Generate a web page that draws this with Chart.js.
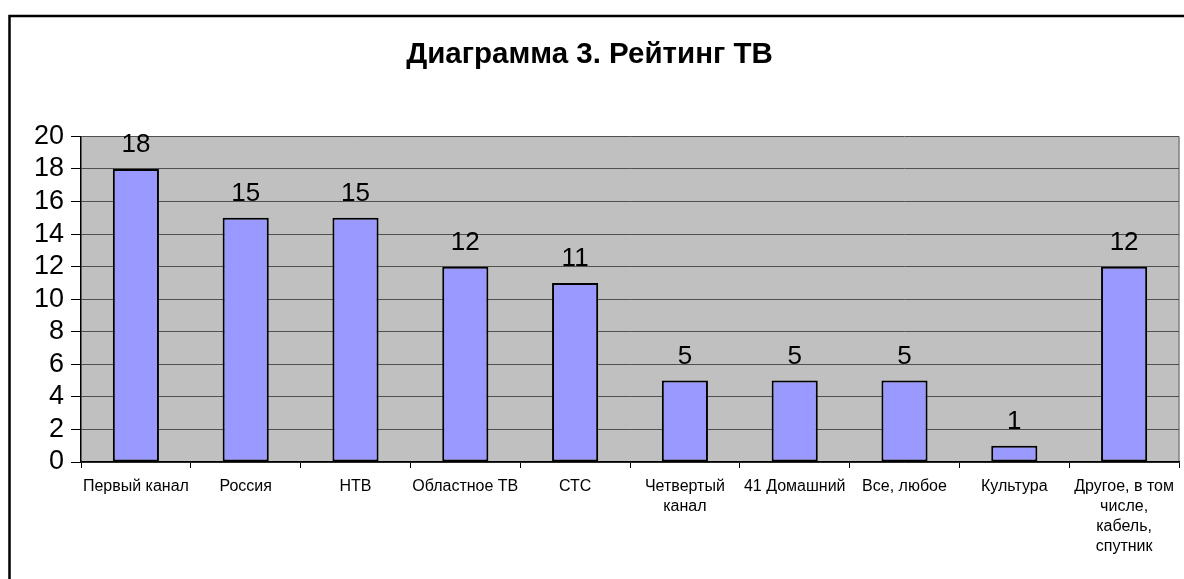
<!DOCTYPE html>
<html>
<head>
<meta charset="utf-8">
<script src="https://cdn.jsdelivr.net/npm/chart.js@4"></script>
<style>
  html, body { margin: 0; padding: 0; background: #fff; }
  #wrap { width: 1184px; height: 579px; }
</style>
</head>
<body>
<div id="wrap"><canvas id="myChart" width="1184" height="579"></canvas></div>
<script>
// data
var channels = [
  "Первый канал",
  "Россия",
  "НТВ",
  "Областное ТВ",
  "СТС",
  ["Четвертый", "канал"],
  "41 Домашний",
  "Все, любое",
  "Культура",
  ["Другое, в том", "числе,", "кабель,", "спутник"]
];
var rating = [18, 15, 15, 12, 11, 5, 5, 5, 1, 12];
var yTicks = [0, 2, 4, 6, 8, 10, 12, 14, 16, 18, 20];
var titleText = "Диаграмма 3. Рейтинг ТВ";

const FONT = "'Liberation Sans', Arial, sans-serif";

// grey plot background + outer frame
var backPlugin = {
  id: "back",
  beforeDraw: function(chart) {
    const c = chart.ctx, a = chart.chartArea;
    c.save();
    c.fillStyle = "#C0C0C0";
    c.fillRect(a.left, a.top, a.right - a.left, a.bottom - a.top);
    c.strokeStyle = "#808080";
    c.lineWidth = 1.5;
    c.beginPath();
    c.moveTo(a.right, a.top);
    c.lineTo(a.right, a.bottom);
    c.stroke();
    // outer frame (cut off at right/bottom)
    c.strokeStyle = "#000";
    c.lineWidth = 2.5;
    c.beginPath();
    c.moveTo(9.5, 600);
    c.lineTo(9.5, 16);
    c.lineTo(1200, 16);
    c.stroke();
    c.restore();
  }
};

// value labels above bars
var labelPlugin = {
  id: "vals",
  afterDatasetsDraw: function(chart) {
    const c = chart.ctx;
    const meta = chart.getDatasetMeta(0);
    c.save();
    c.font = "26px " + FONT;
    c.fillStyle = "#000";
    c.textAlign = "center";
    c.textBaseline = "alphabetic";
    meta.data.forEach(function(bar, i) {
      c.fillText(rating[i].toString(), bar.x, bar.y - 17);
    });
    c.restore();
  }
};

const ctx = document.getElementById("myChart");
var myChart = new Chart(ctx, {
  type: "bar",
  data: {
    labels: channels,
    datasets: [{
      data: rating,
      backgroundColor: "#9999FF",
      borderColor: "#000",
      borderWidth: 2,
      borderSkipped: false,
      categoryPercentage: 1.0,
      barPercentage: 0.42
    }]
  },
  options: {
    responsive: false,
    animation: false,
    layout: { padding: { left: 0, right: 5, top: 0, bottom: 0 } },
    plugins: {
      legend: { display: false },
      tooltip: { enabled: false },
      title: {
        display: true,
        text: titleText,
        color: "#000",
        font: { family: FONT, size: 29.5, weight: "bold" },
        padding: { top: 37, bottom: 64 }
      }
    },
    scales: {
      x: {
        grid: {
          offset: true,
          drawOnChartArea: false,
          drawTicks: true,
          tickLength: 6,
          tickColor: "#000"
        },
        border: { color: "#000", width: 1.5 },
        ticks: {
          color: "#000",
          font: { family: FONT, size: 16, lineHeight: 1.25 },
          padding: 9,
          maxRotation: 0,
          autoSkip: false
        },
        afterFit: function(s) { s.height = 117; }
      },
      y: {
        min: 0,
        max: 20,
        afterBuildTicks: function(s) {
          s.ticks = yTicks.map(function(v) { return { value: v }; });
        },
        grid: {
          color: "#505050",
          lineWidth: 1,
          tickLength: 10,
          tickColor: "#000"
        },
        border: { color: "#000", width: 1.5 },
        ticks: {
          color: "#000",
          font: { family: FONT, size: 27 },
          padding: 7,
          autoSkip: false,
          stepSize: 2
        },
        afterFit: function(s) { s.width = 81; }
      }
    }
  },
  plugins: [backPlugin, labelPlugin]
});
</script>
</body>
</html>
